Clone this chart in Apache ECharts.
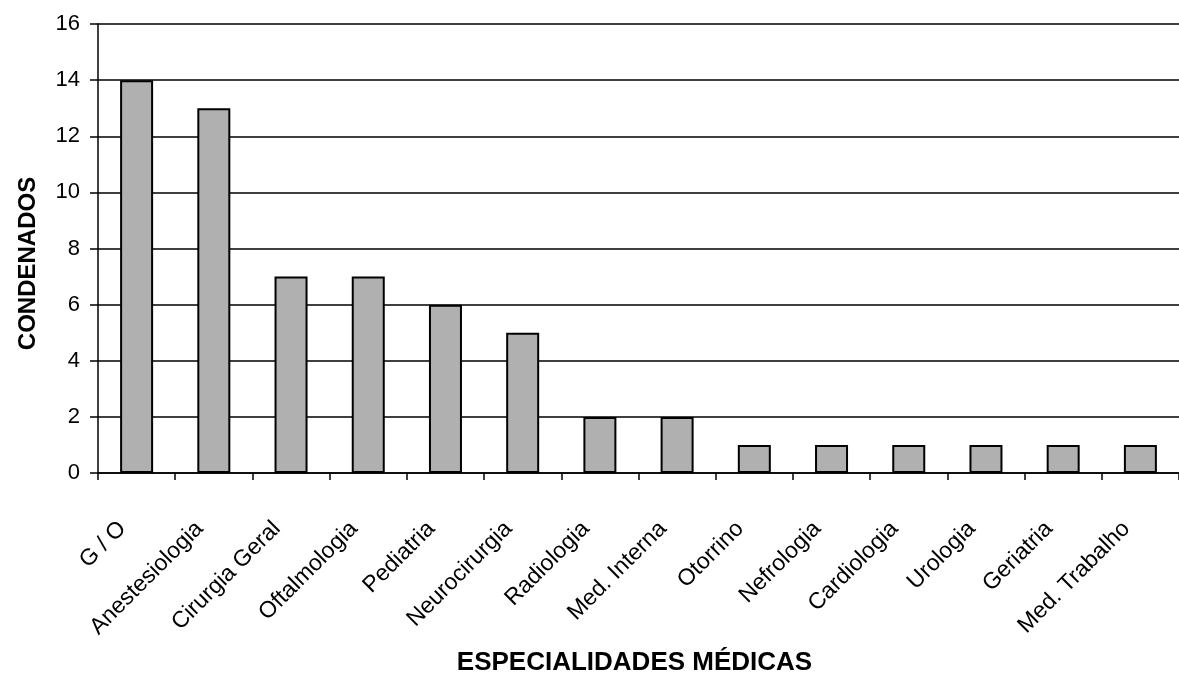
<!DOCTYPE html>
<html>
<head>
<meta charset="utf-8">
<script src="https://cdn.jsdelivr.net/npm/echarts@6/dist/echarts.min.js"></script>
<style>html,body{margin:0;padding:0;background:#fff}#c{width:1179px;height:681px}</style>
</head>
<body>
<div id="c"></div>
<script>
const categories = ["G / O","Anestesiologia","Cirurgia Geral","Oftalmologia","Pediatria","Neurocirurgia","Radiologia","Med. Interna","Otorrino","Nefrologia","Cardiologia","Urologia","Geriatria","Med. Trabalho"];
const condenados = [14,13,7,7,6,5,2,2,1,1,1,1,1,1];
const yTicks = {min:0, max:16, interval:2};
const xTitle = "ESPECIALIDADES MÉDICAS";
const yTitle = "CONDENADOS";

const font = "'Liberation Sans', Arial, sans-serif";
const chart = echarts.init(document.getElementById('c'), null, {renderer:'canvas'});
chart.setOption({
  animation:false,
  backgroundColor:'#fff',
  grid:{left:98, top:24, width:1088, height:464, containLabel:false},
  xAxis:{
    type:'category', data:categories,
    name:xTitle, nameLocation:'middle', nameGap:177,
    nameTextStyle:{fontFamily:font, fontWeight:'bold', fontSize:26, color:'#000', padding:[0,8,0,0]},
    axisLine:{lineStyle:{color:'#000', width:1.5}},
    axisTick:{show:true, alignWithLabel:false, length:7, lineStyle:{color:'#000', width:1.5}},
    axisLabel:{interval:0, rotate:45, margin:38, padding:[0,20,0,0], fontFamily:font, fontSize:23, color:'#000'}
  },
  yAxis:{
    type:'value', min:yTicks.min, max:yTicks.max, interval:yTicks.interval,
    name:yTitle, nameLocation:'middle', nameGap:58,
    nameTextStyle:{fontFamily:font, fontWeight:'bold', fontSize:24, color:'#000', padding:[0,30,0,0]},
    axisLine:{show:true, lineStyle:{color:'#000', width:1.5}},
    axisTick:{show:true, length:8, lineStyle:{color:'#000', width:1.5}},
    axisLabel:{margin:18, fontFamily:font, fontSize:22, color:'#000'},
    splitLine:{show:true, lineStyle:{color:'#000', width:1.5}}
  },
  series:[{
    type:'bar', data:condenados, barWidth:33,
    itemStyle:{color:'#b0b0b0', borderColor:'#000', borderWidth:2}
  }]
});
</script>
</body>
</html>
